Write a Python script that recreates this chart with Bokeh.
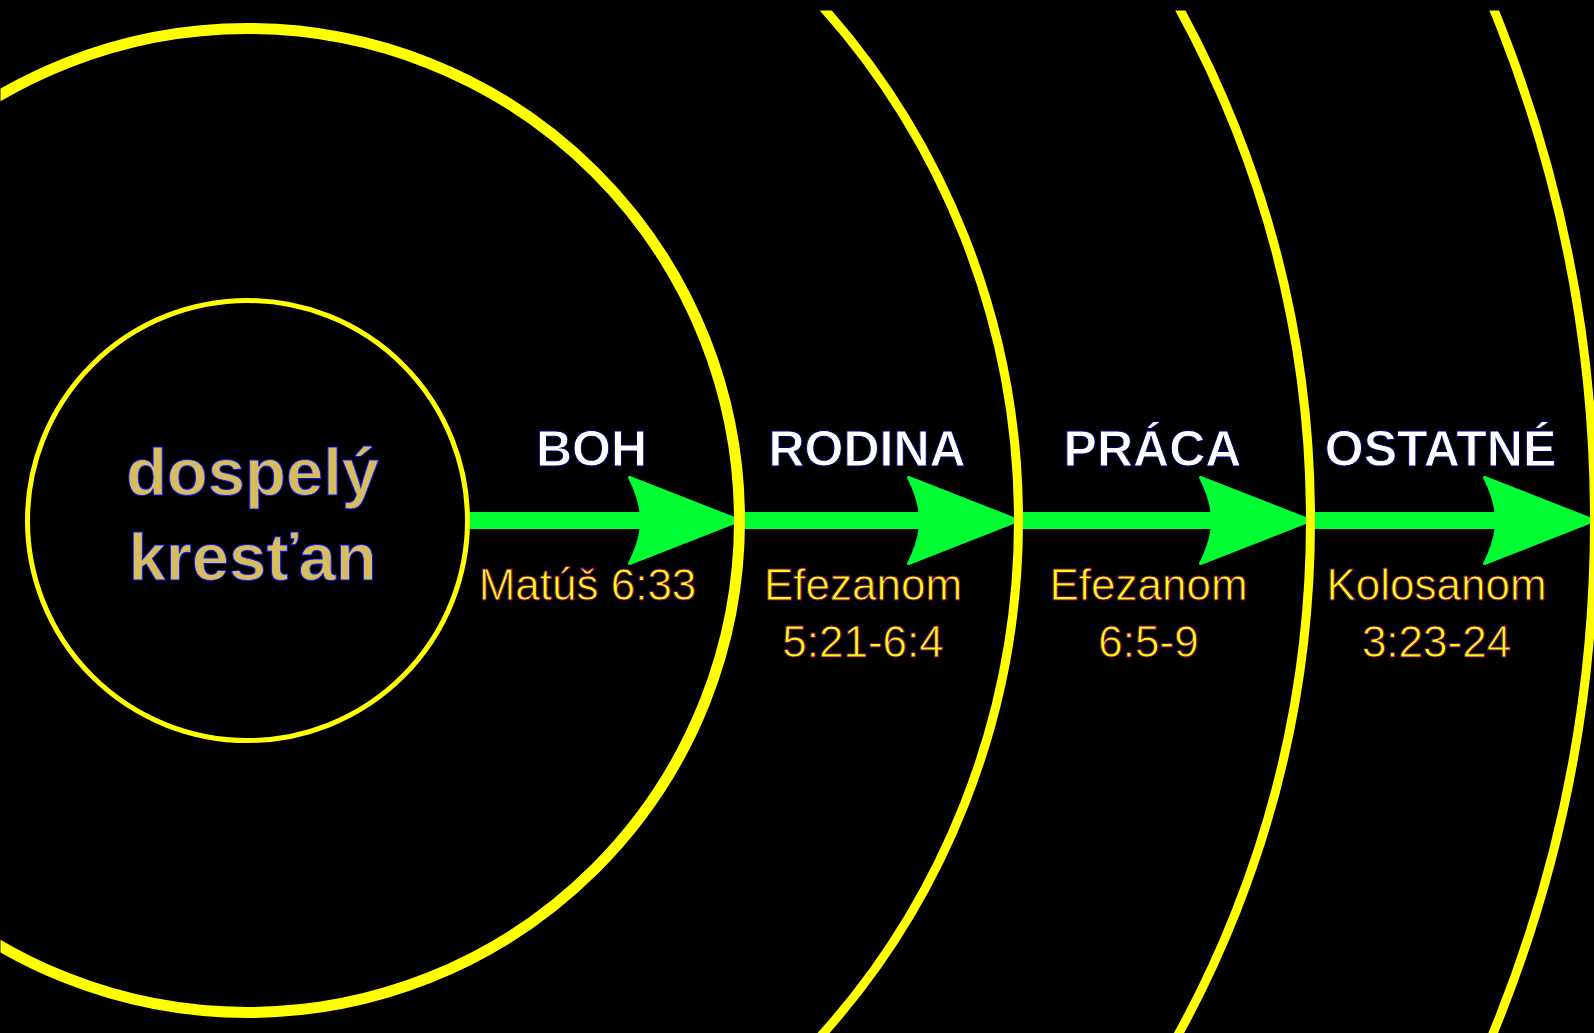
import numpy as np
from bokeh.plotting import figure
from bokeh.models import Range1d
from bokeh.core.properties import value
from bokeh.embed import file_html
from bokeh.resources import INLINE

# ---- data ----
ring_radii = [220, 492, 771, 1063, 1347]          # inner circle + four rings
core_label = ["dospelý", "kresťan"]
ring_names = ["BOH", "RODINA", "PRÁCA", "OSTATNÉ"]
verse_line1 = ["Matúš 6:33", "Efezanom", "Efezanom", "Kolosanom"]
verse_line2 = ["", "5:21-6:4", "6:5-9", "3:23-24"]

# ---- layout constants ----
W, H = 1594, 1033
TOP = 10
CX, CY = 247, 520
YELLOW = "#FFFF00"
GREEN = "#00FF33"

p = figure(width=W, height=H, output_backend="svg", toolbar_location=None,
           x_range=Range1d(0, W), y_range=Range1d(H, TOP),
           min_border=0, min_border_top=TOP,
           x_axis_location=None, y_axis_location=None,
           background_fill_color="black", border_fill_color="black")
p.grid.visible = False
p.outline_line_color = None

# ---- arrows (shaft + concave head) ----
shaft_half = 8.5
head_len, head_half, notch = 110, 43, 12
lefts, rights = [], []
hx, hy = [], []
for i in range(len(ring_radii) - 1):
    x0 = CX + ring_radii[i]
    tip = CX + ring_radii[i + 1]
    bx = tip - head_len
    nx = bx + notch
    lefts.append(x0)
    rights.append(nx + 2)
    t = np.linspace(0, 1, 20)
    cx_, cy_ = nx, CY - head_half * 0.45
    qx = (1 - t) ** 2 * bx + 2 * (1 - t) * t * cx_ + t ** 2 * nx
    qy_top = (1 - t) ** 2 * (CY - head_half) + 2 * (1 - t) * t * cy_ + t ** 2 * CY
    qy_bot = 2 * CY - qy_top
    xs = [tip, bx] + list(qx) + list(qx[::-1][1:]) + [bx]
    ys = [CY, CY - head_half] + list(qy_top) + list(qy_bot[::-1][1:]) + [CY + head_half]
    hx.append(xs)
    hy.append(ys)

p.quad(left=lefts, right=rights, top=[CY - shaft_half] * len(lefts),
       bottom=[CY + shaft_half] * len(lefts), fill_color=GREEN, line_color=None)
p.patches(hx, hy, fill_color=GREEN, line_color=GREEN, line_width=3, line_join="round")

# ---- circles ----
widths = [5, 11, 9, 9, 9]
for r, lw in zip(ring_radii, widths):
    p.circle(x=[CX], y=[CY], radius=r, fill_color=None, line_color=YELLOW, line_width=lw)

# ---- core label ----
p.text(x=[CX + 5] * 2, y=[471, 556], text=core_label,
       text_font=value("Liberation Sans"), text_font_style="bold",
       text_font_size="67px", text_color="#D6BE60",
       text_outline_color="#1010FF",
       text_align="center", text_baseline="alphabetic")

# ---- ring names and verses ----
mids = [CX + (ring_radii[i] + ring_radii[i + 1]) / 2 for i in range(len(ring_names))]
p.text(x=[m - 12 for m in mids], y=[448] * len(mids), text=ring_names,
       text_font=value("Liberation Sans"), text_font_style="bold",
       text_font_size="50px", text_color="white",
       text_outline_color="#000070",
       text_align="center", text_baseline="alphabetic")
p.text(x=[m - 16 for m in mids], y=[584] * len(mids), text=verse_line1,
       text_font=value("Liberation Sans"), text_font_size="44px",
       text_color=YELLOW, text_outline_color="#70006A",
       text_align="center", text_baseline="alphabetic")
p.text(x=[m - 16 for m in mids], y=[641] * len(mids), text=verse_line2,
       text_font=value("Liberation Sans"), text_font_size="44px",
       text_color=YELLOW, text_outline_color="#70006A",
       text_align="center", text_baseline="alphabetic")

html = file_html(p, INLINE, title="kruhy")
html = html.replace("<head>", "<head><style>html,body{background:#000;}</style>", 1)
open("out.html", "w").write(html)
